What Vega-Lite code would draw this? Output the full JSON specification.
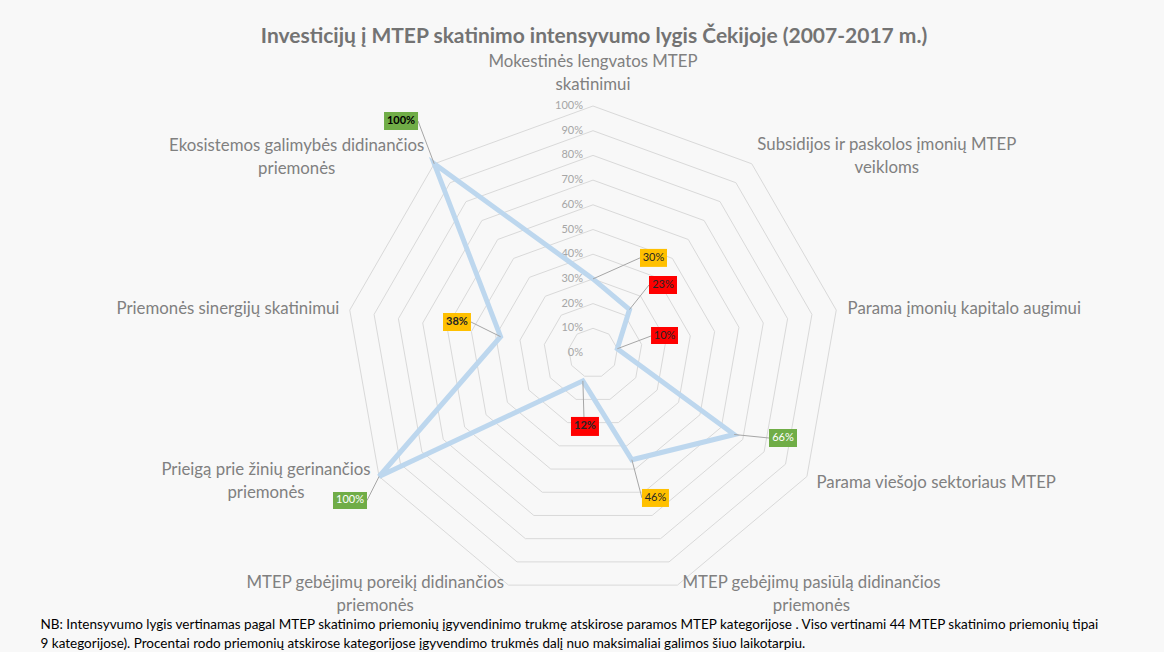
{
  "$schema": "https://vega.github.io/schema/vega-lite/v6.json",
  "width": 1164,
  "height": 555,
  "autosize": {"type": "none"},
  "padding": {"left": 0, "right": 0, "top": 55, "bottom": 42},
  "background": "#f8f8f8",
  "config": {"view": {"stroke": null}, "text": {"font": "Lato"}},
  "title": {
    "text": "Investicijų į MTEP skatinimo intensyvumo lygis Čekijoje (2007-2017 m.)",
    "font": "Lato", "fontSize": 21, "fontWeight": "bold", "color": "#737373",
    "anchor": "middle", "dx": 12, "offset": 7
  },
  "datasets": {
    "radar": [
      {"category": "Mokestinės lengvatos MTEP\nskatinimui", "value": 30},
      {"category": "Subsidijos ir paskolos įmonių MTEP\nveikloms", "value": 23},
      {"category": "Parama įmonių kapitalo augimui", "value": 10},
      {"category": "Parama viešojo sektoriaus MTEP", "value": 66},
      {"category": "MTEP gebėjimų pasiūlą didinančios\npriemonės", "value": 46},
      {"category": "MTEP gebėjimų poreikį didinančios\npriemonės", "value": 12},
      {"category": "Prieigą prie žinių gerinančios\npriemonės", "value": 100},
      {"category": "Priemonės sinergijų skatinimui", "value": 38},
      {"category": "Ekosistemos galimybės didinančios\npriemonės", "value": 100}
    ],
    "rings": [
      {"level":0,"k":0},{"level":0,"k":1},{"level":0,"k":2},{"level":0,"k":3},{"level":0,"k":4},{"level":0,"k":5},{"level":0,"k":6},{"level":0,"k":7},{"level":0,"k":8},
      {"level":10,"k":0},{"level":10,"k":1},{"level":10,"k":2},{"level":10,"k":3},{"level":10,"k":4},{"level":10,"k":5},{"level":10,"k":6},{"level":10,"k":7},{"level":10,"k":8},
      {"level":20,"k":0},{"level":20,"k":1},{"level":20,"k":2},{"level":20,"k":3},{"level":20,"k":4},{"level":20,"k":5},{"level":20,"k":6},{"level":20,"k":7},{"level":20,"k":8},
      {"level":30,"k":0},{"level":30,"k":1},{"level":30,"k":2},{"level":30,"k":3},{"level":30,"k":4},{"level":30,"k":5},{"level":30,"k":6},{"level":30,"k":7},{"level":30,"k":8},
      {"level":40,"k":0},{"level":40,"k":1},{"level":40,"k":2},{"level":40,"k":3},{"level":40,"k":4},{"level":40,"k":5},{"level":40,"k":6},{"level":40,"k":7},{"level":40,"k":8},
      {"level":50,"k":0},{"level":50,"k":1},{"level":50,"k":2},{"level":50,"k":3},{"level":50,"k":4},{"level":50,"k":5},{"level":50,"k":6},{"level":50,"k":7},{"level":50,"k":8},
      {"level":60,"k":0},{"level":60,"k":1},{"level":60,"k":2},{"level":60,"k":3},{"level":60,"k":4},{"level":60,"k":5},{"level":60,"k":6},{"level":60,"k":7},{"level":60,"k":8},
      {"level":70,"k":0},{"level":70,"k":1},{"level":70,"k":2},{"level":70,"k":3},{"level":70,"k":4},{"level":70,"k":5},{"level":70,"k":6},{"level":70,"k":7},{"level":70,"k":8},
      {"level":80,"k":0},{"level":80,"k":1},{"level":80,"k":2},{"level":80,"k":3},{"level":80,"k":4},{"level":80,"k":5},{"level":80,"k":6},{"level":80,"k":7},{"level":80,"k":8},
      {"level":90,"k":0},{"level":90,"k":1},{"level":90,"k":2},{"level":90,"k":3},{"level":90,"k":4},{"level":90,"k":5},{"level":90,"k":6},{"level":90,"k":7},{"level":90,"k":8},
      {"level":100,"k":0},{"level":100,"k":1},{"level":100,"k":2},{"level":100,"k":3},{"level":100,"k":4},{"level":100,"k":5},{"level":100,"k":6},{"level":100,"k":7},{"level":100,"k":8}
    ]
  },
  "encoding": {
    "x": {
      "field": "x", "type": "quantitative",
      "scale": {"domain": [-240.08, 231.17], "nice": false, "zero": false},
      "axis": {
        "domain": false, "ticks": false, "labels": false, "grid": false,
        "title": [
          "NB: Intensyvumo lygis vertinamas pagal MTEP skatinimo priemonių įgyvendinimo trukmę atskirose paramos MTEP kategorijose . Viso vertinami 44 MTEP skatinimo priemonių tipai",
          "9 kategorijose). Procentai rodo priemonių  atskirose kategorijose įgyvendimo trukmės dalį nuo  maksimaliai galimos šiuo laikotarpiu."
        ],
        "titleFont": "Lato", "titleFontSize": 13.5, "titleFontWeight": "normal", "titleColor": "#000000",
        "titleAnchor": "start", "titleAlign": "left", "titleX": 40, "titleBaseline": "top",
        "titleLineHeight": 19.5, "titlePadding": 7
      }
    },
    "y": {
      "field": "y", "type": "quantitative",
      "scale": {"domain": [-104.05, 120.65], "nice": false, "zero": false},
      "axis": null
    }
  },
  "layer": [
    {
      "data": {"name": "rings"},
      "transform": [
        {"calculate": "datum.k * 2 * PI / 9", "as": "a"},
        {"calculate": "datum.level * sin(datum.a)", "as": "x"},
        {"calculate": "datum.level * cos(datum.a)", "as": "y"}
      ],
      "mark": {"type": "line", "interpolate": "linear-closed", "stroke": "#d9d9d9", "strokeWidth": 1},
      "encoding": {"detail": {"field": "level", "type": "nominal"}, "order": {"field": "k", "type": "quantitative"}}
    },
    {
      "data": {"name": "rings"},
      "transform": [
        {"filter": "datum.k == 0"},
        {"calculate": "0", "as": "x"},
        {"calculate": "datum.level", "as": "y"},
        {"calculate": "datum.level + '%'", "as": "lab"}
      ],
      "mark": {"type": "text", "align": "right", "baseline": "middle", "dx": -10, "fontSize": 11, "color": "#a6a6a6", "font": "Lato"},
      "encoding": {"text": {"field": "lab", "type": "nominal"}}
    },
    {
      "data": {"name": "radar"},
      "transform": [
        {"window": [{"op": "row_number", "as": "n"}]},
        {"calculate": "(datum.n - 1) * 2 * PI / 9", "as": "a"},
        {"calculate": "datum.value * sin(datum.a)", "as": "x"},
        {"calculate": "datum.value * cos(datum.a)", "as": "y"},
        {"calculate": "datum.value + '%'", "as": "lab"}
      ],
      "layer": [
        {
          "mark": {"type": "line", "interpolate": "linear-closed", "stroke": "#bdd7ee", "strokeWidth": 5},
          "encoding": {"order": {"field": "n", "type": "quantitative"}}
        },
        {
          "transform": [
            {"calculate": "100 * sin(datum.a)", "as": "x"},
            {"calculate": "100 * cos(datum.a)", "as": "y"}
          ],
          "encoding": {"text": {"field": "category", "type": "nominal"}},
          "layer": [
            {"transform": [{"filter": "datum.n == 1"}], "mark": {"type": "text", "font": "Lato", "fontSize": 16.8, "color": "#808080", "lineBreak": "\n", "lineHeight": 23, "align": "center", "baseline": "middle", "dx": 0, "dy": -44}},
            {"transform": [{"filter": "datum.n == 2"}], "mark": {"type": "text", "font": "Lato", "fontSize": 16.8, "color": "#808080", "lineBreak": "\n", "lineHeight": 23, "align": "center", "baseline": "middle", "dx": 135, "dy": -18.8}},
            {"transform": [{"filter": "datum.n == 3"}], "mark": {"type": "text", "font": "Lato", "fontSize": 16.8, "color": "#808080", "lineBreak": "\n", "lineHeight": 23, "align": "center", "baseline": "middle", "dx": 128, "dy": -1.5}},
            {"transform": [{"filter": "datum.n == 4"}], "mark": {"type": "text", "font": "Lato", "fontSize": 16.8, "color": "#808080", "lineBreak": "\n", "lineHeight": 23, "align": "center", "baseline": "middle", "dx": 129.3, "dy": 6.5}},
            {"transform": [{"filter": "datum.n == 5"}], "mark": {"type": "text", "font": "Lato", "fontSize": 16.8, "color": "#808080", "lineBreak": "\n", "lineHeight": 23, "align": "center", "baseline": "middle", "dx": 134, "dy": -2.1}},
            {"transform": [{"filter": "datum.n == 6"}], "mark": {"type": "text", "font": "Lato", "fontSize": 16.8, "color": "#808080", "lineBreak": "\n", "lineHeight": 23, "align": "center", "baseline": "middle", "dx": -133.3, "dy": -2.1}},
            {"transform": [{"filter": "datum.n == 7"}], "mark": {"type": "text", "font": "Lato", "fontSize": 16.8, "color": "#808080", "lineBreak": "\n", "lineHeight": 23, "align": "center", "baseline": "middle", "dx": -113.1, "dy": -6.5}},
            {"transform": [{"filter": "datum.n == 8"}], "mark": {"type": "text", "font": "Lato", "fontSize": 16.8, "color": "#808080", "lineBreak": "\n", "lineHeight": 23, "align": "center", "baseline": "middle", "dx": -121.8, "dy": -1.5}},
            {"transform": [{"filter": "datum.n == 9"}], "mark": {"type": "text", "font": "Lato", "fontSize": 16.8, "color": "#808080", "lineBreak": "\n", "lineHeight": 23, "align": "center", "baseline": "middle", "dx": -137.5, "dy": -17.8}}
          ]
        },
        {
          "transform": [{"filter": "datum.n == 1"}],
          "layer": [
            {"mark": {"type": "rule", "stroke": "#a6a6a6", "strokeWidth": 1, "x2Offset": 47, "y2Offset": -21}, "encoding": {"x2": {"field": "x"}, "y2": {"field": "y"}}},
            {"mark": {"type": "rect", "xOffset": 47, "x2Offset": 74, "yOffset": -30, "y2Offset": -12}, "encoding": {"x2": {"field": "x"}, "y2": {"field": "y"}, "fill": {"field": "value", "type": "quantitative", "scale": {"type": "threshold", "domain": [25, 50], "range": ["#ff0000", "#ffc000", "#70ad47"]}, "legend": null}}},
            {"mark": {"type": "text", "font": "Lato", "fontSize": 11, "color": "#262626", "align": "center", "baseline": "middle", "dx": 60.5, "dy": -21}, "encoding": {"text": {"field": "lab", "type": "nominal"}}}
          ]
        },
        {
          "transform": [{"filter": "datum.n == 2"}],
          "layer": [
            {"mark": {"type": "rule", "stroke": "#a6a6a6", "strokeWidth": 1, "x2Offset": 19.5, "y2Offset": -24.5}, "encoding": {"x2": {"field": "x"}, "y2": {"field": "y"}}},
            {"mark": {"type": "rect", "xOffset": 19.5, "x2Offset": 47.5, "yOffset": -33.5, "y2Offset": -15.5}, "encoding": {"x2": {"field": "x"}, "y2": {"field": "y"}, "fill": {"field": "value", "type": "quantitative", "scale": {"type": "threshold", "domain": [25, 50], "range": ["#ff0000", "#ffc000", "#70ad47"]}, "legend": null}}},
            {"mark": {"type": "text", "font": "Lato", "fontSize": 11, "color": "#262626", "align": "center", "baseline": "middle", "dx": 33.5, "dy": -24.5}, "encoding": {"text": {"field": "lab", "type": "nominal"}}}
          ]
        },
        {
          "transform": [{"filter": "datum.n == 3"}],
          "layer": [
            {"mark": {"type": "rule", "stroke": "#a6a6a6", "strokeWidth": 1, "x2Offset": 33.7, "y2Offset": -12.7}, "encoding": {"x2": {"field": "x"}, "y2": {"field": "y"}}},
            {"mark": {"type": "rect", "xOffset": 33.7, "x2Offset": 60.7, "yOffset": -21.7, "y2Offset": -4.7}, "encoding": {"x2": {"field": "x"}, "y2": {"field": "y"}, "fill": {"field": "value", "type": "quantitative", "scale": {"type": "threshold", "domain": [25, 50], "range": ["#ff0000", "#ffc000", "#70ad47"]}, "legend": null}}},
            {"mark": {"type": "text", "font": "Lato", "fontSize": 11, "color": "#262626", "align": "center", "baseline": "middle", "dx": 47.2, "dy": -13.2}, "encoding": {"text": {"field": "lab", "type": "nominal"}}}
          ]
        },
        {
          "transform": [{"filter": "datum.n == 4"}],
          "layer": [
            {"mark": {"type": "rule", "stroke": "#a6a6a6", "strokeWidth": 1, "x2Offset": 34.8, "y2Offset": 3.5}, "encoding": {"x2": {"field": "x"}, "y2": {"field": "y"}}},
            {"mark": {"type": "rect", "xOffset": 34.8, "x2Offset": 62.8, "yOffset": -5.5, "y2Offset": 12.5}, "encoding": {"x2": {"field": "x"}, "y2": {"field": "y"}, "fill": {"field": "value", "type": "quantitative", "scale": {"type": "threshold", "domain": [25, 50], "range": ["#ff0000", "#ffc000", "#70ad47"]}, "legend": null}}},
            {"mark": {"type": "text", "font": "Lato", "fontSize": 11, "color": "#ffffff", "align": "center", "baseline": "middle", "dx": 48.8, "dy": 3.5}, "encoding": {"text": {"field": "lab", "type": "nominal"}}}
          ]
        },
        {
          "transform": [{"filter": "datum.n == 5"}],
          "layer": [
            {"mark": {"type": "rule", "stroke": "#a6a6a6", "strokeWidth": 1, "x2Offset": 10.1, "y2Offset": 38.2}, "encoding": {"x2": {"field": "x"}, "y2": {"field": "y"}}},
            {"mark": {"type": "rect", "xOffset": 10.1, "x2Offset": 37.1, "yOffset": 29.2, "y2Offset": 47.2}, "encoding": {"x2": {"field": "x"}, "y2": {"field": "y"}, "fill": {"field": "value", "type": "quantitative", "scale": {"type": "threshold", "domain": [25, 50], "range": ["#ff0000", "#ffc000", "#70ad47"]}, "legend": null}}},
            {"mark": {"type": "text", "font": "Lato", "fontSize": 11, "color": "#262626", "align": "center", "baseline": "middle", "dx": 23.6, "dy": 38.2}, "encoding": {"text": {"field": "lab", "type": "nominal"}}}
          ]
        },
        {
          "transform": [{"filter": "datum.n == 6"}],
          "layer": [
            {"mark": {"type": "rule", "stroke": "#a6a6a6", "strokeWidth": 1, "x2Offset": 1.1, "y2Offset": 36.1}, "encoding": {"x2": {"field": "x"}, "y2": {"field": "y"}}},
            {"mark": {"type": "rect", "xOffset": -11.9, "x2Offset": 16.1, "yOffset": 36.1, "y2Offset": 55.1}, "encoding": {"x2": {"field": "x"}, "y2": {"field": "y"}, "fill": {"field": "value", "type": "quantitative", "scale": {"type": "threshold", "domain": [25, 50], "range": ["#ff0000", "#ffc000", "#70ad47"]}, "legend": null}}},
            {"mark": {"type": "text", "font": "Lato", "fontSize": 11, "fontWeight": "bold", "color": "#262626", "align": "center", "baseline": "middle", "dx": 2.1, "dy": 45.6}, "encoding": {"text": {"field": "lab", "type": "nominal"}}}
          ]
        },
        {
          "transform": [{"filter": "datum.n == 7"}],
          "layer": [
            {"mark": {"type": "rule", "stroke": "#a6a6a6", "strokeWidth": 1, "x2Offset": -12.1, "y2Offset": 24}, "encoding": {"x2": {"field": "x"}, "y2": {"field": "y"}}},
            {"mark": {"type": "rect", "xOffset": -46.1, "x2Offset": -12.1, "yOffset": 15.5, "y2Offset": 32.5}, "encoding": {"x2": {"field": "x"}, "y2": {"field": "y"}, "fill": {"field": "value", "type": "quantitative", "scale": {"type": "threshold", "domain": [25, 50], "range": ["#ff0000", "#ffc000", "#70ad47"]}, "legend": null}}},
            {"mark": {"type": "text", "font": "Lato", "fontSize": 11, "color": "#ffffff", "align": "center", "baseline": "middle", "dx": -29.1, "dy": 24}, "encoding": {"text": {"field": "lab", "type": "nominal"}}}
          ]
        },
        {
          "transform": [{"filter": "datum.n == 8"}],
          "layer": [
            {"mark": {"type": "rule", "stroke": "#a6a6a6", "strokeWidth": 1, "x2Offset": -29.6, "y2Offset": -14.7}, "encoding": {"x2": {"field": "x"}, "y2": {"field": "y"}}},
            {"mark": {"type": "rect", "xOffset": -57.6, "x2Offset": -29.6, "yOffset": -23.7, "y2Offset": -5.7}, "encoding": {"x2": {"field": "x"}, "y2": {"field": "y"}, "fill": {"field": "value", "type": "quantitative", "scale": {"type": "threshold", "domain": [25, 50], "range": ["#ff0000", "#ffc000", "#70ad47"]}, "legend": null}}},
            {"mark": {"type": "text", "font": "Lato", "fontSize": 11, "fontWeight": "bold", "color": "#262626", "align": "center", "baseline": "middle", "dx": -43.6, "dy": -14.7}, "encoding": {"text": {"field": "lab", "type": "nominal"}}}
          ]
        },
        {
          "transform": [{"filter": "datum.n == 9"}],
          "layer": [
            {"mark": {"type": "rule", "stroke": "#a6a6a6", "strokeWidth": 1, "x2Offset": -16.2, "y2Offset": -42.8}, "encoding": {"x2": {"field": "x"}, "y2": {"field": "y"}}},
            {"mark": {"type": "rect", "xOffset": -50.2, "x2Offset": -16.2, "yOffset": -51.8, "y2Offset": -33.8}, "encoding": {"x2": {"field": "x"}, "y2": {"field": "y"}, "fill": {"field": "value", "type": "quantitative", "scale": {"type": "threshold", "domain": [25, 50], "range": ["#ff0000", "#ffc000", "#70ad47"]}, "legend": null}}},
            {"mark": {"type": "text", "font": "Lato", "fontSize": 11, "fontWeight": "bold", "color": "#000000", "align": "center", "baseline": "middle", "dx": -33.2, "dy": -42.8}, "encoding": {"text": {"field": "lab", "type": "nominal"}}}
          ]
        }
      ]
    }
  ]
}
